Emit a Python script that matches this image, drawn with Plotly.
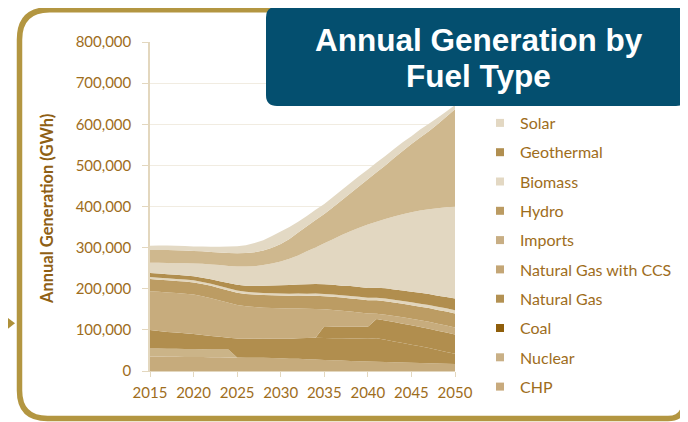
import plotly.graph_objects as go

# ---------------- data (thousand GWh) ----------------
YEARS = [2015, 2016, 2017, 2018, 2019, 2020, 2021, 2022, 2023, 2024,
         2025, 2026, 2027, 2028, 2029, 2030, 2031, 2032, 2033, 2034,
         2035, 2036, 2037, 2038, 2039, 2040, 2041, 2042, 2043, 2044,
         2045, 2046, 2047, 2048, 2049, 2050]

CHP = [35, 35, 34.5, 34.5, 34, 34, 34, 33.5, 33.5, 33,
       33, 32.5, 32, 32, 31.5, 31, 30, 29.5, 28.5, 28,
       27, 26, 25.5, 24.5, 24, 23, 22.5, 22, 21, 20.5,
       20, 19.5, 19, 18, 17.5, 17]
NUCLEAR = [20, 19.5, 19.5, 19.5, 19.5, 19.5, 19, 19, 19, 19,
           0, 0, 0, 0, 0, 0, 0, 0, 0, 0,
           0, 0, 0, 0, 0, 0, 0, 0, 0, 0,
           0, 0, 0, 0, 0, 0]
COAL = [0, 0, 0, 0, 0, 0, 0, 0, 0, 0,
        0, 0, 0, 0, 0, 0, 0, 0, 0, 0,
        0, 0, 0, 0, 0, 0, 0, 0, 0, 0,
        0, 0, 0, 0, 0, 0]
NATURAL_GAS = [45, 43, 41, 39.5, 38, 36.5, 34.5, 32.5, 30.5, 29,
               46, 46.5, 46.5, 47, 47, 47.5, 48.5, 50, 51.5, 53,
               53, 53.5, 54, 54.5, 55, 55.5, 57, 54, 51, 47.5,
               44, 40.5, 37, 33, 29, 25]
NG_CCS = [0, 0, 0, 0, 0, 0, 0, 0, 0, 0,
          0, 0, 0, 0, 0, 0, 0, 0, 0, 0,
          29, 29, 29, 29, 29, 29, 47, 47, 47, 47,
          47, 47, 47, 47, 47, 47]
IMPORTS = [94, 95, 96, 96, 96.5, 96, 94.5, 92, 88.5, 85,
           81.5, 78.5, 77, 75, 74.5, 74, 73.5, 72.5, 71.5, 70,
           41, 40, 38, 36.5, 34.5, 32.5, 13, 14, 15, 15.5,
           16, 16.5, 16.5, 17, 17, 17]
HYDRO = [29.5, 29.5, 29.5, 29.5, 29.5, 29.5, 29.5, 30, 30, 30,
         30, 30, 30.5, 30.5, 31, 31, 31, 31.5, 31.5, 32,
         32, 32, 32, 32, 32, 32, 32.5, 32.5, 32.5, 33,
         33, 33, 33.5, 33.5, 34, 34]
BIOMASS = [5, 5, 5, 5, 5, 5, 5, 5, 5, 5,
           5, 5, 5, 5, 5, 5, 5, 5, 5, 5.5,
           5.5, 5.5, 5.5, 6, 6, 6, 6, 6.5, 6.5, 6.5,
           7, 7, 7.5, 7.5, 8, 8]
GEOTHERMAL = [10, 10, 10, 10, 10, 10, 10.5, 11, 12, 13,
              14, 15, 16, 17.5, 19, 20, 21, 22, 23, 23,
              23.5, 23.5, 23.5, 24, 24, 24, 24.5, 25, 25, 25.5,
              26, 26.5, 27, 27, 27.5, 28]
SOLAR = [25, 26, 27, 28, 29.5, 31, 33.5, 36, 39, 41.5,
         44.5, 46.5, 48, 50.5, 53.5, 58, 64, 70.5, 80, 89,
         99.5, 111, 123, 133.5, 144, 154, 160.5, 168.5, 177.5, 185.5,
         193, 200, 206, 213, 218, 223.5]
# two upper series whose legend entries sit hidden behind the title box
WIND = [31, 31.5, 31.5, 31.5, 31, 30.5, 30.5, 30.5, 30.5, 31.5,
        32.5, 33, 34, 35.5, 38, 42.5, 48, 56, 61, 66.5,
        71.5, 77.5, 84.5, 92, 100.5, 110, 120, 130.5, 142.5, 154,
        166, 178, 189.5, 204, 220, 237]
OTHER = [10, 10.5, 11, 11, 11, 11, 11.5, 12.5, 14, 15.5,
         17, 19, 22, 25, 28.5, 30, 29, 26, 25, 25,
         24, 25, 25, 25, 25, 24, 24, 23, 22, 21,
         19, 19, 18, 16, 13, 10.5]

X_TICKS = [2015, 2020, 2025, 2030, 2035, 2040, 2045, 2050]
Y_TICKS = [0, 100000, 200000, 300000, 400000, 500000, 600000, 700000, 800000]

# stacking order (bottom -> top): name, values, fill colour, in legend?
STACK = [
    ("CHP", CHP, "#C6AB7C", True),
    ("Nuclear", NUCLEAR, "#CBB488", True),
    ("Coal", COAL, "#8F5E0B", True),
    ("Natural Gas", NATURAL_GAS, "#B18E4E", True),
    ("Natural Gas with CCS", NG_CCS, "#B18E4E", True),
    ("Imports", IMPORTS, "#C7AC7D", True),
    ("Hydro", HYDRO, "#BC9C63", True),
    ("Biomass", BIOMASS, "#E2D6BD", True),
    ("Geothermal", GEOTHERMAL, "#B18E4E", True),
    ("Solar", SOLAR, "#E2D7C1", True),
    ("Wind", WIND, "#CFB88E", False),
    ("Other", OTHER, "#E3D9C4", False),
]
LEGEND_COLORS = {
    "Solar": "#E3D8C3", "Geothermal": "#B18F50", "Biomass": "#E3D8C3",
    "Hydro": "#BB9B62", "Imports": "#C8AE84", "Natural Gas with CCS": "#C4A676",
    "Natural Gas": "#B39152", "Coal": "#8F5E0B", "Nuclear": "#C9B086",
    "CHP": "#C8AA7D",
}

# ---------------- layout geometry ----------------
# the page body adds an 8px offset, so the figure is drawn 8px smaller and
# every position below is given in the coordinates of the 688x422 window
OFF = 8
W, H = 688 - OFF, 422 - OFF
ML, MR, MT, MB = 150 - OFF, 233, 42 - OFF, 51
PW, PH = W - ML - MR, H - MT - MB


def px(x):
    return (x - OFF - ML) / PW


def py(y):
    return (H + OFF - MB - y) / PH


TXT = "#9E6D1C"
GOLD = "#B39641"
AXC = "#E3D7BE"

fig = go.Figure()
for name, vals, color, _ in STACK:
    fig.add_trace(go.Scatter(
        x=YEARS, y=[v * 1000 for v in vals], name=name,
        stackgroup="gen", mode="none", fillcolor=color,
        line=dict(width=0), showlegend=False, hoverinfo="x+y+name"))

# legend entries (top of stack first)
for name, vals, color, inleg in reversed(STACK):
    if not inleg:
        continue
    fig.add_trace(go.Scatter(
        x=[None], y=[None], mode="markers", name=name, legendgroup=name,
        marker=dict(symbol="square", size=8, color=LEGEND_COLORS[name]),
        showlegend=True, hoverinfo="skip"))


def rrect(x0, y0, x1, y1, rtl, rtr, rbr, rbl):
    pts = [
        f"M {px(x0)},{py(y0 + rtl)}",
        f"Q {px(x0)},{py(y0)} {px(x0 + rtl)},{py(y0)}",
        f"L {px(x1 - rtr)},{py(y0)}",
        f"Q {px(x1)},{py(y0)} {px(x1)},{py(y0 + rtr)}",
        f"L {px(x1)},{py(y1 - rbr)}",
        f"Q {px(x1)},{py(y1)} {px(x1 - rbr)},{py(y1)}",
        f"L {px(x0 + rbl)},{py(y1)}",
        f"Q {px(x0)},{py(y1)} {px(x0)},{py(y1 - rbl)}",
        "Z",
    ]
    return " ".join(pts)


shapes = [
    # gold frame
    dict(type="path", xref="paper", yref="paper", layer="below",
         path=rrect(19.5, 9.7, 684, 418.5, 30, 14, 16, 28),
         line=dict(color=GOLD, width=5.5), fillcolor="rgba(0,0,0,0)"),
    # arrow on the left
    dict(type="path", xref="paper", yref="paper", layer="above",
         path=f"M {px(-2)},{py(310.2)} L {px(15)},{py(323.3)} L {px(-2)},{py(336.4)} Z",
         line=dict(width=0), fillcolor="#AE9039"),
    # title box
    dict(type="path", xref="paper", yref="paper", layer="above",
         path=rrect(266, 6.7, 687, 106, 11, 11, 11, 11),
         line=dict(width=0), fillcolor="#044F6F"),
]

annotations = [
    dict(text="<b>Annual Generation by</b>", xref="paper", yref="paper",
         x=px(478.5), y=py(39.5), xanchor="center", yanchor="middle",
         showarrow=False,
         font=dict(family="Liberation Sans, Arial", size=31.5, color="white")),
    dict(text="<b>Fuel Type</b>", xref="paper", yref="paper",
         x=px(478.5), y=py(76), xanchor="center", yanchor="middle",
         showarrow=False,
         font=dict(family="Liberation Sans, Arial", size=31.5, color="white")),
    dict(text="<b>Annual Generation (GWh)</b>", xref="paper", yref="paper",
         x=px(47), y=py(209), xanchor="center", yanchor="middle",
         textangle=-90, showarrow=False,
         font=dict(family="Lato", size=16.5, color="#8F6014")),
]

fig.update_layout(
    width=W, height=H,
    margin=dict(l=ML, r=MR, t=MT, b=MB, pad=0, autoexpand=False),
    paper_bgcolor="white", plot_bgcolor="white",
    font=dict(family="Lato", color=TXT),
    showlegend=True,
    legend=dict(xref="container", yref="container",
                x=(480 - OFF) / W, y=1 - (106 - OFF) / H,
                xanchor="left", yanchor="top", maxheight=400,
                traceorder="grouped", tracegroupgap=5.5, itemwidth=30,
                font=dict(family="Lato", size=16, color=TXT),
                bgcolor="rgba(0,0,0,0)", borderwidth=0),
    shapes=shapes,
    annotations=annotations,
    xaxis=dict(range=[2015, 2050], tickvals=X_TICKS, ticktext=[str(t) for t in X_TICKS],
               ticks="outside", ticklen=5, tickcolor=AXC, tickwidth=1,
               showline=True, linecolor=AXC, linewidth=1, showgrid=False,
               zeroline=False, automargin=False, ticklabelstandoff=3,
               tickfont=dict(family="Lato", size=15, color=TXT)),
    yaxis=dict(range=[0, 800000], tickvals=Y_TICKS, tickformat=",d",
               ticks="outside", ticklen=6, tickcolor=AXC, tickwidth=1,
               showline=True, linecolor=AXC, linewidth=1.5,
               showgrid=True, gridcolor="#F1ECE1", gridwidth=1,
               zeroline=False, ticklabelstandoff=8, automargin=False,
               tickfont=dict(family="Lato", size=15, color=TXT)),
)

fig.write_html("out.html")
